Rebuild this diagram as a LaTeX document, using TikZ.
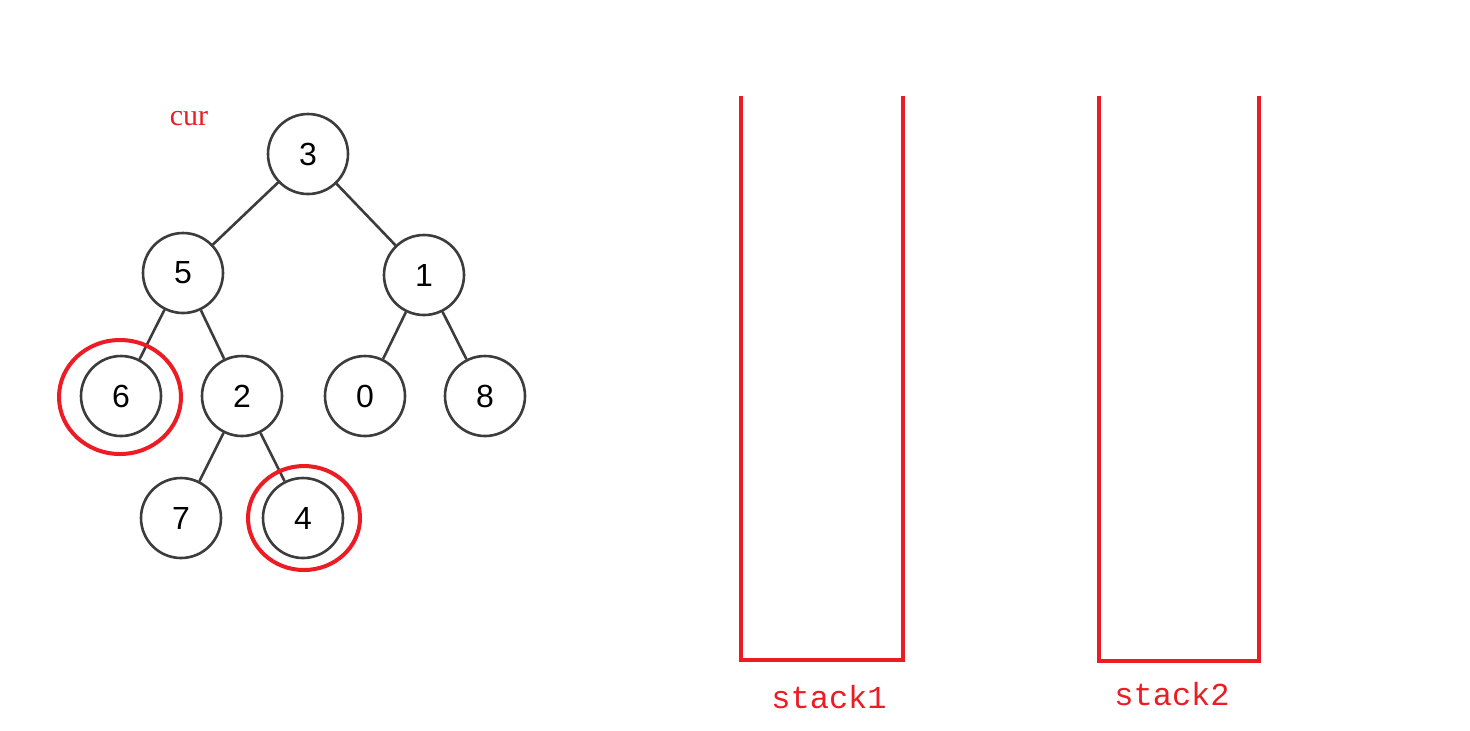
\documentclass[tikz,border=0pt]{standalone}
\usepackage{fontspec}
\usetikzlibrary{shapes.geometric}
\setmainfont{Liberation Serif}
\newfontfamily\numfont{Liberation Sans}
\newfontfamily\labfont{Liberation Mono}
\definecolor{myred}{RGB}{237,28,36}
\definecolor{edgegray}{RGB}{60,60,60}
\begin{document}
\begin{tikzpicture}[x=0.5pt,y=-0.5pt,
  treenode/.style={circle,draw=edgegray,line width=1.3pt,minimum size=40pt,inner sep=0pt,font=\numfont\fontsize{16}{16}\selectfont,fill=white},
  edge/.style={draw=edgegray,line width=1.3pt},
  ringmark/.style={draw=myred,line width=2pt,ellipse,inner sep=0pt},
  stackbox/.style={draw=myred,line width=2pt},
  redlabel/.style={text=myred,font=\labfont\fontsize{16}{16}\selectfont}]
\useasboundingbox (0,0) rectangle (1470,730);
\fill[white] (0,0) rectangle (1470,730);
% tree nodes
\node[treenode] (n3) at (308,154) {3};
\node[treenode] (n5) at (183,273) {5};
\node[treenode] (n1) at (424,275) {1};
\node[treenode] (n6) at (121,396) {6};
\node[treenode] (n2) at (242,396) {2};
\node[treenode] (n0) at (365,396) {0};
\node[treenode] (n8) at (485,396) {8};
\node[treenode] (n7) at (181,518) {7};
\node[treenode] (n4) at (303,518) {4};
% edges
\draw[edge] (n3) -- (n5);
\draw[edge] (n3) -- (n1);
\draw[edge] (n5) -- (n6);
\draw[edge] (n5) -- (n2);
\draw[edge] (n1) -- (n0);
\draw[edge] (n1) -- (n8);
\draw[edge] (n2) -- (n7);
\draw[edge] (n2) -- (n4);
% red highlight rings
\node[ringmark,minimum width=61pt,minimum height=57pt] (r6) at (120,397) {};
\node[ringmark,minimum width=56pt,minimum height=52pt] (r4) at (304,518) {};
% cur label
\node[text=myred,font=\fontsize{15}{15}\selectfont] (cur) at (189,119) {cur};
% stacks
\coordinate (s1tl) at (741,96);
\coordinate (s1bl) at (741,660);
\coordinate (s1br) at (903,660);
\coordinate (s1tr) at (903,96);
\draw[stackbox] (s1tl) -- (s1bl) -- (s1br) -- (s1tr);
\coordinate (s2tl) at (1099,96);
\coordinate (s2bl) at (1099,661);
\coordinate (s2br) at (1259,661);
\coordinate (s2tr) at (1259,96);
\draw[stackbox] (s2tl) -- (s2bl) -- (s2br) -- (s2tr);
\node[redlabel] (lab1) at (829,697) {stack1};
\node[redlabel] (lab2) at (1172,694) {stack2};
\end{tikzpicture}
\end{document}
